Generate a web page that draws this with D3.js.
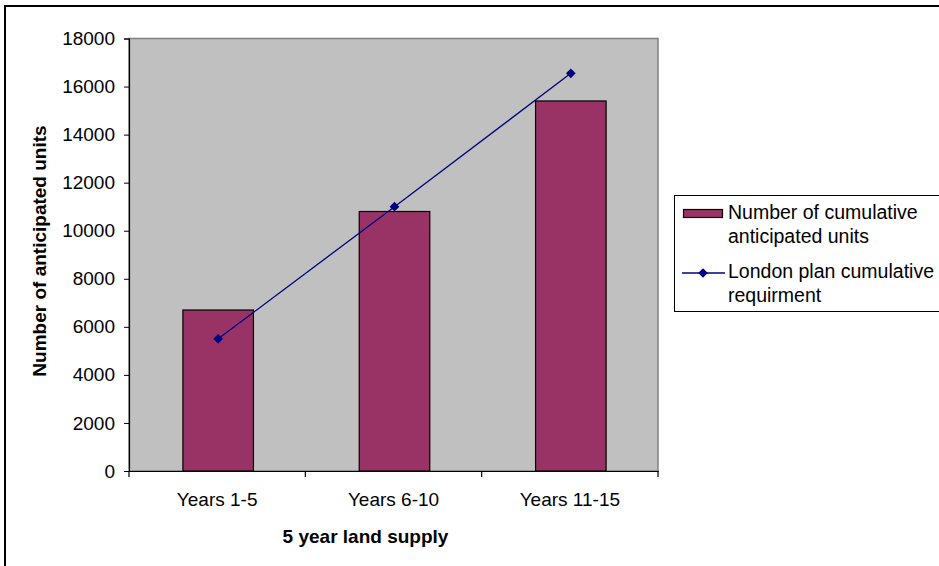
<!DOCTYPE html>
<html><head><meta charset="utf-8">
<script src="https://cdn.jsdelivr.net/npm/d3@7"></script>
<style>body{margin:0;background:#fff}svg{display:block;font-family:"Liberation Sans",Arial,sans-serif}</style>
</head><body><svg id="c" width="939" height="566"></svg>
<script>
const categories = ["Years 1-5", "Years 6-10", "Years 11-15"];
const barValues = [6700, 10800, 15400];
const lineValues = [5500, 11000, 16550];
const yTicks = [0, 2000, 4000, 6000, 8000, 10000, 12000, 14000, 16000, 18000];
const barName = ["Number of cumulative", "anticipated units"];
const lineName = ["London plan cumulative", "requirment"];
const xTitle = "5 year land supply";
const yTitle = "Number of anticipated units";

const svg = d3.select("#c");
const L = 129, R = 658, T = 38.5, B = 471;
const FS = 19;

// outer frame
svg.append("rect").attr("x", 5).attr("y", 6).attr("width", 960).attr("height", 600)
  .attr("fill", "#fff").attr("stroke", "#000").attr("stroke-width", 2);

const x = d3.scaleBand().domain(categories).range([L, R]).paddingInner(0.6).paddingOuter(0.3);
const y = d3.scaleLinear().domain([0, 18000]).range([B, T]);

svg.append("rect").attr("x", L).attr("y", T).attr("width", R - L).attr("height", B - T)
  .attr("fill", "#c0c0c0").attr("stroke", "#808080").attr("stroke-width", 1.5);

svg.selectAll("rect.bar").data(barValues).join("rect").attr("class", "bar")
  .attr("x", (d, i) => x(categories[i]) + 1).attr("width", x.bandwidth())
  .attr("y", d => y(d)).attr("height", d => B - y(d))
  .attr("fill", "#993366").attr("stroke", "#000").attr("stroke-width", 1.2);

const cx = (i) => x(categories[i]) + x.bandwidth() / 2 + 1;
svg.append("path").datum(lineValues)
  .attr("d", d3.line().x((d, i) => cx(i)).y(d => y(d)))
  .attr("fill", "none").attr("stroke", "#000080").attr("stroke-width", 1.3);
const diamond = d3.symbol().type(d3.symbolDiamond2).size(60);
svg.selectAll("path.pt").data(lineValues).join("path").attr("class", "pt")
  .attr("d", diamond).attr("transform", (d, i) => `translate(${cx(i)},${y(d)})`)
  .attr("fill", "#000080");

// y axis
const ya = svg.append("g").attr("transform", `translate(${L},0)`)
  .call(d3.axisLeft(y).tickValues(yTicks).tickSize(5).tickPadding(9).tickFormat(d3.format("d")));
ya.select(".domain").attr("stroke", "#000").attr("stroke-width", 1.2);
ya.selectAll(".tick line").attr("stroke", "#000");
ya.selectAll("text").attr("font-size", FS).attr("fill", "#000").attr("font-family", "Liberation Sans, Arial");

// x axis
const xa = svg.append("g").attr("transform", `translate(0,${B})`)
  .call(d3.axisBottom(x).tickSize(0).tickPadding(22));
xa.select(".domain").attr("stroke", "#000").attr("stroke-width", 1.2);
xa.selectAll("text").attr("font-size", FS).attr("fill", "#000").attr("font-family", "Liberation Sans, Arial");
const bounds = [L].concat(categories.map((c, i) => L + (R - L) * (i + 1) / categories.length));
svg.selectAll("line.xt").data(bounds).join("line").attr("class", "xt")
  .attr("x1", d => d).attr("x2", d => d).attr("y1", B).attr("y2", B + 6)
  .attr("stroke", "#000").attr("stroke-width", 1.2);

// titles
svg.append("text").attr("x", (L + R) / 2 - 28).attr("y", 543).attr("text-anchor", "middle")
  .attr("font-size", FS).attr("font-weight", "bold").text(xTitle);
svg.append("text").attr("transform", `translate(46,251) rotate(-90)`)
  .attr("text-anchor", "middle").attr("font-size", FS).attr("font-weight", "bold").text(yTitle);

// legend
const lg = svg.append("g");
lg.append("rect").attr("x", 674.5).attr("y", 195.5).attr("width", 290).attr("height", 116)
  .attr("fill", "#fff").attr("stroke", "#000").attr("stroke-width", 1);
lg.append("rect").attr("x", 683.5).attr("y", 209.5).attr("width", 39).attr("height", 8)
  .attr("fill", "#993366").attr("stroke", "#000").attr("stroke-width", 1.2);
lg.append("line").attr("x1", 682).attr("x2", 725).attr("y1", 273).attr("y2", 273)
  .attr("stroke", "#000080").attr("stroke-width", 1.3);
lg.append("path").attr("d", diamond).attr("transform", "translate(703,273)").attr("fill", "#000080");
const lt = (lines, y0) => lines.forEach((t, i) => lg.append("text").attr("x", 728).attr("y", y0 + i * 24)
  .attr("font-size", 19.5).text(t));
lt(barName, 219);
lt(lineName, 278);
</script></body></html>
